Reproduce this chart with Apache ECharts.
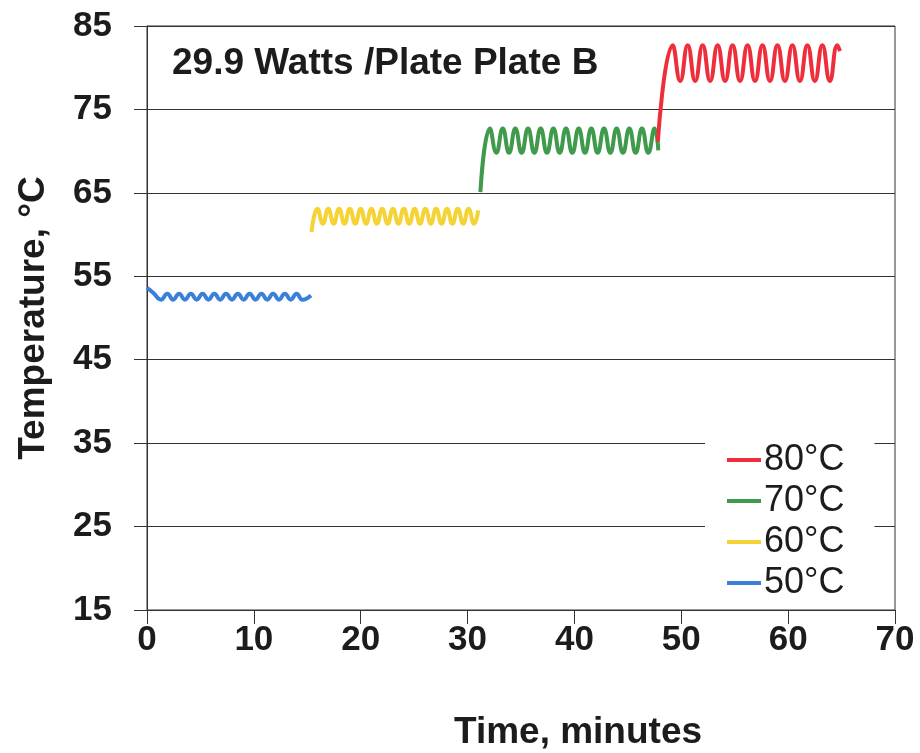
<!DOCTYPE html>
<html>
<head>
<meta charset="utf-8">
<script src="https://cdn.jsdelivr.net/npm/echarts@6/dist/echarts.min.js"></script>
<style>
  html, body { margin: 0; padding: 0; background: #fff; }
  #echart { width: 920px; height: 753px; }
</style>
</head>
<body>
<div id="echart"></div>
<script>
// values (time in minutes, temperature in °C)
var blueTime = [0, 0.6, 1.3, 1.9, 2.45, 3.0, 3.55, 4.1, 4.65, 5.2, 5.75, 6.3, 6.85, 7.4, 7.95, 8.5, 9.05, 9.6, 10.15, 10.7, 11.25, 11.8, 12.35, 12.9, 13.45, 14.0, 14.55, 15.35]
var blueTemp = [53.6, 53.0, 52.2, 52.9, 52.2, 52.9, 52.2, 52.9, 52.2, 52.9, 52.2, 52.9, 52.2, 52.9, 52.2, 52.9, 52.2, 52.9, 52.2, 52.9, 52.2, 52.9, 52.2, 52.9, 52.2, 52.9, 52.2, 52.7]

var yellowTime = [15.4, 15.95, 16.46, 16.96, 17.47, 17.97, 18.48, 18.98, 19.49, 19.99, 20.5, 21.0, 21.51, 22.01, 22.52, 23.02, 23.53, 24.03, 24.54, 25.04, 25.55, 26.05, 26.56, 27.06, 27.57, 28.07, 28.58, 29.08, 29.59, 30.09, 30.6, 31.0]
var yellowTemp = [60.3, 63.1, 61.3, 63.1, 61.3, 63.1, 61.3, 63.1, 61.3, 63.1, 61.3, 63.1, 61.3, 63.1, 61.3, 63.1, 61.3, 63.1, 61.3, 63.1, 61.3, 63.1, 61.3, 63.1, 61.3, 63.1, 61.3, 63.1, 61.3, 63.1, 61.3, 62.9]

var greenTime = [31.2, 32.1, 32.69, 33.29, 33.88, 34.47, 35.06, 35.66, 36.25, 36.84, 37.43, 38.03, 38.62, 39.21, 39.8, 40.4, 40.99, 41.58, 42.17, 42.77, 43.36, 43.95, 44.54, 45.14, 45.73, 46.32, 46.91, 47.5, 47.85]
var greenTemp = [65.1, 72.7, 69.8, 72.7, 69.8, 72.7, 69.8, 72.7, 69.8, 72.7, 69.8, 72.7, 69.8, 72.7, 69.8, 72.7, 69.8, 72.7, 69.8, 72.7, 69.8, 72.7, 69.8, 72.7, 69.8, 72.7, 69.8, 72.7, 70.1]

var redTime = [47.8, 49.2, 49.9, 50.6, 51.3, 52.0, 52.7, 53.4, 54.1, 54.8, 55.5, 56.2, 56.9, 57.6, 58.3, 59.0, 59.7, 60.4, 61.1, 61.8, 62.5, 63.2, 63.9, 64.6, 64.85]
var redTemp = [71.1, 82.7, 78.4, 82.7, 78.4, 82.7, 78.4, 82.7, 78.4, 82.7, 78.4, 82.7, 78.4, 82.7, 78.4, 82.7, 78.4, 82.7, 78.4, 82.7, 78.4, 82.7, 78.4, 82.7, 82.0]

var seriesNames = ['80°C', '70°C', '60°C', '50°C']
var seriesColors = ['#ee2f3b', '#3f9a4b', '#f6d335', '#3a80db']

function pairs (xs, ys) {
  var out = []
  for (var i = 0; i < xs.length; i++) {
    out.push([xs[i], ys[i]])
  }
  return out
}

var seriesData = [
  pairs(redTime, redTemp),
  pairs(greenTime, greenTemp),
  pairs(yellowTime, yellowTemp),
  pairs(blueTime, blueTemp)
]

var font = '"Liberation Sans", Arial, sans-serif'
var ink = '#1c1c1c'

var series = []
for (var i = 0; i < seriesNames.length; i++) {
  series.push({
    name: seriesNames[i],
    type: 'line',
    data: seriesData[i],
    smooth: 0.5,
    symbol: 'none',
    lineStyle: { color: seriesColors[i], width: 4 },
    itemStyle: { color: seriesColors[i] },
    z: 3 - i
  })
}

const myChart = echarts.init(document.getElementById('echart'))
myChart.setOption({
  animation: false,
  backgroundColor: '#fff',
  title: {
    text: '29.9 Watts /Plate Plate B',
    left: 172,
    top: 45,
    padding: 0,
    textStyle: { fontFamily: font, fontSize: 37, fontWeight: 'bold', color: ink }
  },
  legend: {
    data: seriesNames,
    orient: 'vertical',
    left: 705,
    top: 434,
    padding: [8, 30, 2, 22],
    backgroundColor: '#fff',
    icon: 'rect',
    itemWidth: 34,
    itemHeight: 4,
    itemGap: 5,
    z: 10,
    textStyle: { fontFamily: font, fontSize: 36, color: ink, padding: [0, 0, 0, -2] }
  },
  grid: {
    left: 147,
    right: 25,
    top: 26,
    bottom: 143,
    outerBoundsMode: 'none',
    show: true,
    borderColor: '#333',
    borderWidth: 1
  },
  xAxis: {
    type: 'value',
    min: 0,
    max: 70,
    interval: 10,
    name: 'Time, minutes',
    nameLocation: 'middle',
    nameGap: 104,
    nameTextStyle: { fontFamily: font, fontSize: 37, fontWeight: 'bold', color: ink, padding: [0, 0, 0, 114] },
    axisLine: { show: true, lineStyle: { color: '#333', width: 1 } },
    axisTick: { show: true, length: 14, lineStyle: { color: '#333' } },
    axisLabel: { fontFamily: font, fontSize: 35, fontWeight: 'bold', color: ink, margin: 13 },
    splitLine: { show: false }
  },
  yAxis: {
    type: 'value',
    min: 15,
    max: 85,
    interval: 10,
    name: 'Temperature, °C',
    nameLocation: 'middle',
    nameGap: 95,
    nameTextStyle: { fontFamily: font, fontSize: 37, fontWeight: 'bold', color: ink },
    axisLine: { show: true, lineStyle: { color: '#333', width: 1 } },
    axisTick: { show: true, length: 13, lineStyle: { color: '#333' } },
    axisLabel: { fontFamily: font, fontSize: 35, fontWeight: 'bold', color: ink, margin: 35 },
    splitLine: { show: true, lineStyle: { color: '#333', width: 1 } }
  },
  series: series
})
</script>
</body>
</html>
